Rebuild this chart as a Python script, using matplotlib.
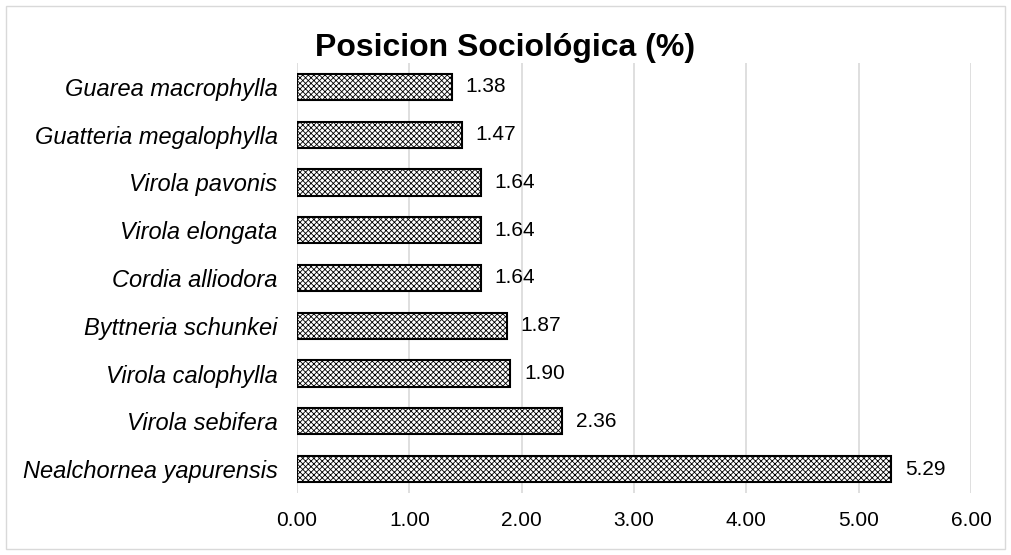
import matplotlib.pyplot as plt
import matplotlib.patches as patches

# Data (top to bottom as shown)
species = [
    'Guarea macrophylla', 'Guatteria megalophylla', 'Virola pavonis',
    'Virola elongata', 'Cordia alliodora', 'Byttneria schunkei',
    'Virola calophylla', 'Virola sebifera', 'Nealchornea yapurensis',
]
values = [1.38, 1.47, 1.64, 1.64, 1.64, 1.87, 1.90, 2.36, 5.29]
x_ticks = [0, 1, 2, 3, 4, 5, 6]

plt.rcParams['font.family'] = ['Liberation Sans', 'DejaVu Sans']
plt.rcParams['hatch.linewidth'] = 0.6

fig = plt.figure(figsize=(10.11, 5.55), dpi=100)
ax = fig.add_axes([0.2938, 0.1117, 0.6666, 0.7748])

y_pos = list(range(len(species)))
bars = ax.barh(y_pos, values, height=0.55, color='white', edgecolor='black',
               linewidth=1.5, hatch='xxxxxx', zorder=3)

for y, v in zip(y_pos, values):
    ax.text(v + 0.12, y, f'{v:.2f}', va='center', ha='left', fontsize=15)

ax.set_yticks(y_pos)
ax.set_yticklabels(species, fontsize=17, style='italic')
ax.set_ylim(len(species) - 0.5, -0.5)
ax.set_xlim(0, 6)
ax.set_xticks(x_ticks)
ax.set_xticklabels([f'{t:.2f}' for t in x_ticks], fontsize=15)
ax.tick_params(axis='y', length=0, pad=14)
ax.tick_params(axis='x', length=0, pad=13)
ax.grid(True, axis='x', color='#d9d9d9', linewidth=1.2, zorder=0)
for s in ax.spines.values():
    s.set_visible(False)

fig.text(0.5, 0.913, 'Posicion Sociológica (%)', ha='center', va='center',
         fontsize=23, fontweight='bold')

# outer chart border
fig.add_artist(patches.Rectangle((0.006, 0.01), 0.988, 0.98, transform=fig.transFigure,
                                 fill=False, edgecolor='#d9d9d9', linewidth=1))

fig.savefig('out.png', dpi=100)
